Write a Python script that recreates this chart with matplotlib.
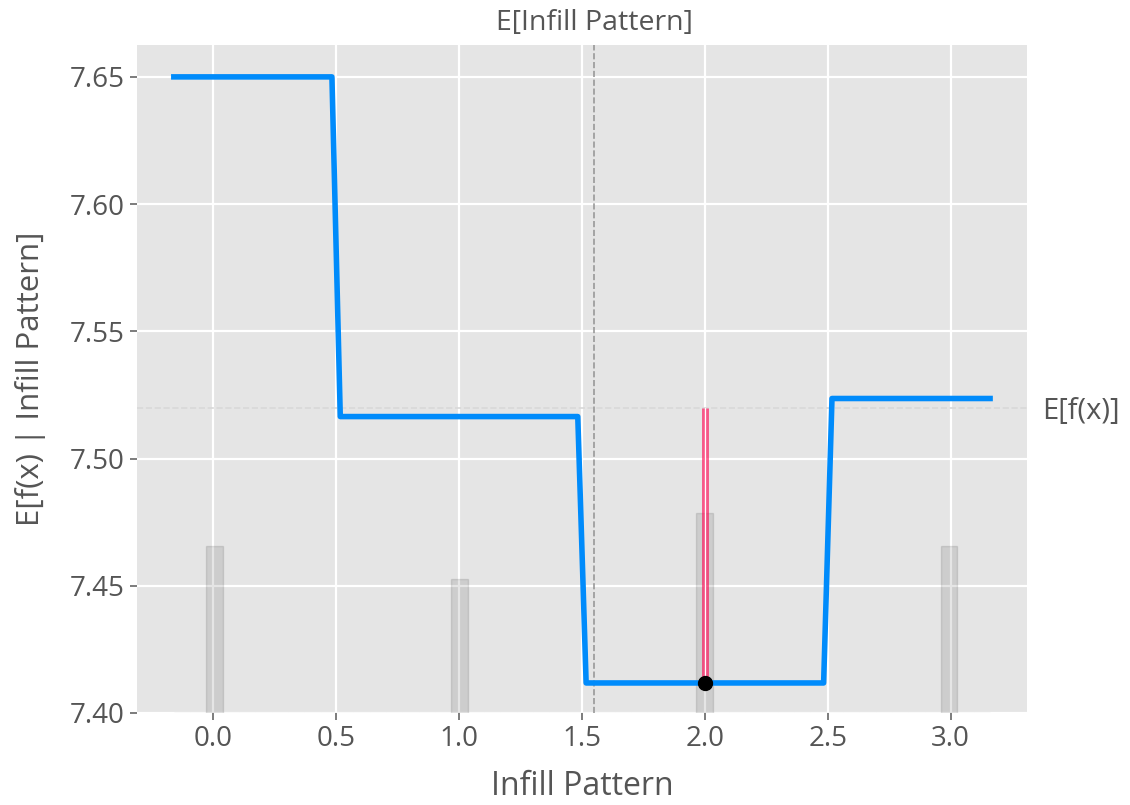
import matplotlib
matplotlib.use("Agg")
import matplotlib.pyplot as plt

plt.style.use("ggplot")
plt.rcParams["font.family"] = ["Open Sans", "DejaVu Sans"]

# partial dependence curve (step breakpoints)
pd_x = [-0.16, 0.483, 0.517, 1.483, 1.517, 2.483, 2.517, 3.16]
pd_y = [7.650, 7.650, 7.5165, 7.5165, 7.4118, 7.4118, 7.5236, 7.5236]

# feature value histogram
cat_values = [0.0, 1.0, 2.0, 3.0]
cat_counts = [25, 20, 30, 25]
n_samples = 100

expected_value = 7.520
feature_mean = 1.549
sample_x = 2.0
sample_y = 7.4118

x_ticks = [0.0, 0.5, 1.0, 1.5, 2.0, 2.5, 3.0]
y_ticks = [7.40, 7.45, 7.50, 7.55, 7.60, 7.65]
xlim = (-0.31, 3.31)
ylim = (7.40, 7.6625)

blue = "#008BFB"
red = "#FF0D57"
grey_txt = "#555555"


def main():
    fig = plt.figure(figsize=(11.3, 8.05), dpi=100)
    ax = fig.add_axes([0.1212, 0.1143, 0.7876, 0.8297])
    ax.set_facecolor("#E5E5E5")
    ax.grid(True, color="white", linewidth=1.6)
    ax.set_xlim(*xlim)
    ax.set_ylim(*ylim)
    ax.set_xticks(x_ticks)
    ax.set_yticks(y_ticks)
    ax.set_xticklabels([f"{t:.1f}" for t in x_ticks])
    ax.set_yticklabels([f"{t:.2f}" for t in y_ticks])
    ax.tick_params(labelsize=20, labelcolor=grey_txt, color="#666666",
                   length=5, width=1.2, pad=4)
    ax.set_xlabel("Infill Pattern", fontsize=23, color=grey_txt, labelpad=12)
    ax.set_ylabel("E[f(x) | Infill Pattern]", fontsize=22.5, color=grey_txt, labelpad=17)
    for s in ax.spines.values():
        s.set_visible(False)

    # histogram of the feature on a twin axis
    ax2 = ax.twinx()
    data = []
    for v, c in zip(cat_values, cat_counts):
        data += [v] * c
    ax2.hist(data, 50, range=(pd_x[0], pd_x[-1]), facecolor="#000000",
             alpha=0.1, edgecolor="#000000", linewidth=1)
    ax2.set_ylim(0, n_samples)
    ax2.set_yticks([])
    ax2.grid(False)
    for s in ax2.spines.values():
        s.set_visible(False)

    # curve, expectations and sample on top twin
    ax3 = ax.twiny()
    ax3.set_xlim(*xlim)
    ax3.grid(False)
    for s in ax3.spines.values():
        s.set_visible(False)
    ax3.axhline(expected_value, color="#d8d8d8", linestyle="--", linewidth=1.2, zorder=1)
    ax3.axvline(feature_mean, color="#999999", linestyle="--", linewidth=1.2, zorder=1)
    ax3.plot(pd_x, pd_y, color=blue, linewidth=4, zorder=3)
    ax3.plot([sample_x, sample_x], [sample_y, expected_value], color=red,
             alpha=0.65, linewidth=5, solid_capstyle="butt", zorder=4)
    ax3.plot([sample_x, sample_x], [sample_y, expected_value], color="white",
             linewidth=0.9, zorder=5)
    ax3.plot([sample_x], [sample_y], "o", color="black", markersize=10, zorder=6)
    ax3.set_xticks([feature_mean])
    ax3.set_xticklabels(["E[Infill Pattern]"])
    ax3.tick_params(axis="x", labelsize=20.5, colors=grey_txt, length=0, pad=6)

    ax4 = ax.twinx()
    ax4.set_ylim(*ylim)
    ax4.grid(False)
    for s in ax4.spines.values():
        s.set_visible(False)
    ax4.set_yticks([expected_value])
    ax4.set_yticklabels(["E[f(x)]"])
    ax4.tick_params(axis="y", labelsize=21, colors=grey_txt, length=0, pad=11)

    fig.savefig("out.png", dpi=100, facecolor="white")


if __name__ == "__main__":
    main()
